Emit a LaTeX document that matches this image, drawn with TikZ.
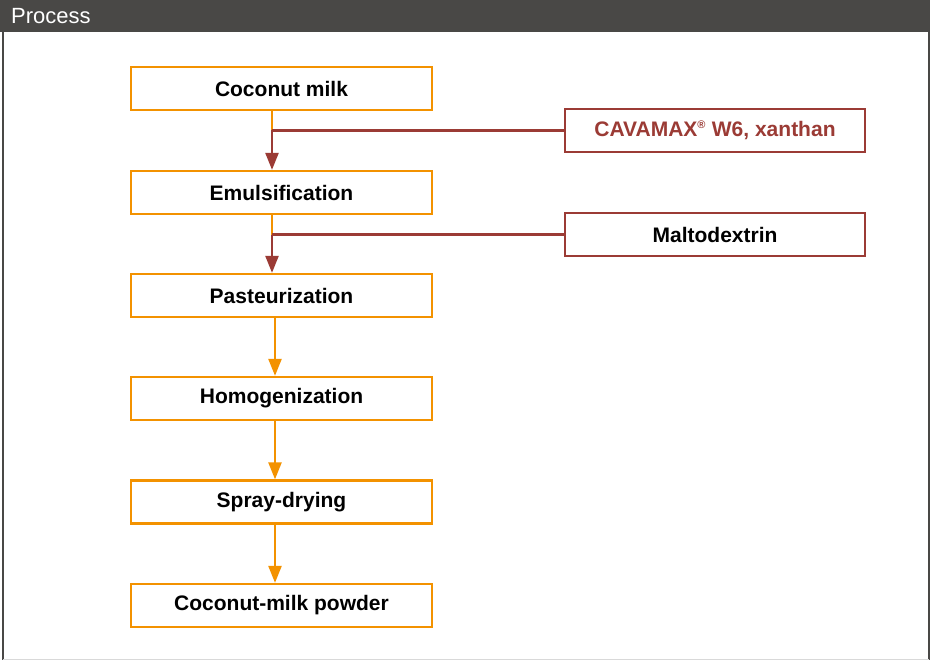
\documentclass[tikz,border=0pt]{standalone}
\usepackage{fontspec}
\setmainfont{Liberation Sans}
\usetikzlibrary{arrows.meta}
\definecolor{hdr}{HTML}{494846}
\definecolor{org}{HTML}{F39200}
\definecolor{brn}{HTML}{9B3B35}
\begin{document}
\begin{tikzpicture}[x=1pt,y=-1pt,
  mainbox/.style={draw=org,line width=2.3pt,minimum width=301pt,minimum height=43pt,inner sep=0pt,font=\fontsize{21}{23}\selectfont\bfseries,text=black},
  sidebox/.style={draw=brn,line width=2.3pt,minimum width=300pt,minimum height=43pt,inner sep=0pt,font=\fontsize{21}{23}\selectfont\bfseries},
  oarrow/.style={draw=org,line width=2.3pt,-{Triangle[width=13pt,length=17pt]}},
  barrow/.style={draw=brn,line width=2.3pt,-{Triangle[width=13pt,length=17pt]}},
  oline/.style={draw=org,line width=2.3pt},
  bline/.style={draw=brn,line width=2.3pt}]
\useasboundingbox (0,0) rectangle (933,660);
\fill[white] (0,0) rectangle (933,660);
\draw[hdr,line width=1.5pt] (3,31) -- (3,660);
\draw[hdr,line width=1.5pt] (929,31) -- (929,660);
\draw[gray!30,line width=1pt] (3,659) -- (929,659);
\fill[hdr] (0,0) rectangle (930,32);
\node[anchor=west,text=white,font=\fontsize{22}{24}\selectfont,inner sep=0pt] (title) at (11,16) {Process};

\node[mainbox] (n1) at (281.5,88.5) {Coconut milk};
\node[mainbox] (n2) at (281.5,192.5) {Emulsification};
\node[mainbox] (n3) at (281.5,295.5) {Pasteurization};
\node[mainbox] (n4) at (281.5,398.5) {Homogenization};
\node[mainbox] (n5) at (281.5,502) {Spray-drying};
\node[mainbox] (n6) at (281.5,605.5) {Coconut-milk powder};

\node[sidebox,text=brn] (s1) at (715,130.5) {CAVAMAX\textsuperscript{\fontsize{11}{11}\selectfont ®} W6, xanthan};
\node[sidebox,text=black] (s2) at (715,234.5) {Maltodextrin};

\coordinate (j1) at (272,130.5);
\coordinate (j2) at (272,234.5);

\draw[oline] (n1.south -| j1) -- (j1);
\draw[bline] (s1.west) -- (j1);
\draw[barrow] (j1) -- (n2.north -| j1);
\draw[oline] (n2.south -| j1) -- (j2);
\draw[bline] (s2.west) -- (j2);
\draw[barrow] (j2) -- (n3.north -| j2);

\draw[oarrow] ([xshift=-6.5pt]n3.south) -- ([xshift=-6.5pt]n4.north);
\draw[oarrow] ([xshift=-6.5pt]n4.south) -- ([xshift=-6.5pt]n5.north);
\draw[oarrow] ([xshift=-6.5pt]n5.south) -- ([xshift=-6.5pt]n6.north);
\end{tikzpicture}
\end{document}
